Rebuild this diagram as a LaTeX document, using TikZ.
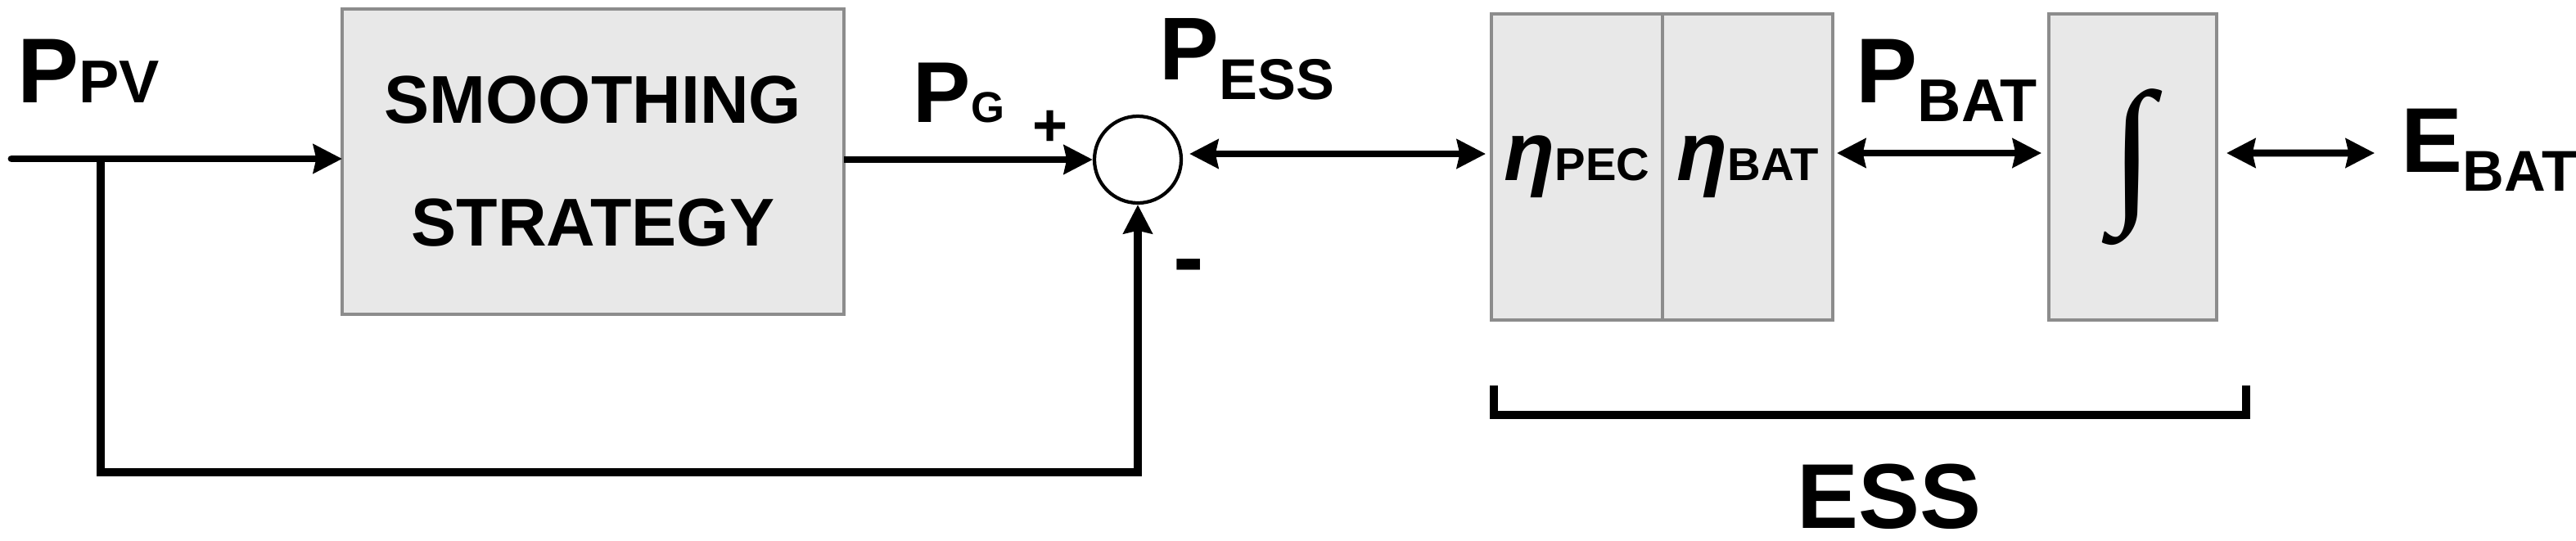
\documentclass[tikz,border=0pt]{standalone}
\usepackage{fontspec}
\setmainfont{Liberation Sans}
\newfontfamily\intfont{Liberation Serif}
\usetikzlibrary{arrows.meta,positioning}
\newcommand{\fsz}[1]{\fontsize{#1}{#1}\selectfont}

\begin{document}
\begin{tikzpicture}[
  block/.style={draw=black!45, fill=black!9, line width=1pt, inner sep=0pt, outer sep=0pt, minimum height=3.74cm, align=center},
  lbl/.style={inner sep=0pt, anchor=base west},
  arrow/.style={-{Stealth[length=10pt,width=10pt,inset=1pt]}, line width=2.5pt},
  biarrow/.style={{Stealth[length=10pt,width=10pt,inset=1pt]}-{Stealth[length=10pt,width=10pt,inset=1pt]}, line width=2.5pt},
  bracket/.style={line width=2.8pt}
]
\useasboundingbox (0,0) rectangle (31.47,-6.6);
% blocks
\node[block, minimum width=6.13cm, minimum height=3.73cm, font=\bfseries\fontsize{23.5pt}{42.7pt}\selectfont] (smooth) at (7.245,-1.975) {SMOOTHING\\STRATEGY};
\node[draw, circle, line width=1.2pt, minimum size=1.06cm, inner sep=0pt] (sum) at (13.9,-1.95) {};
\node[block, minimum width=2.09cm, font=\bfseries\itshape\fsz{29pt}] (pec) at (19.265,-2.04) {η{\upshape\fsz{16pt}PEC}};
\node[block, minimum width=2.08cm, right=0pt of pec, font=\bfseries\itshape\fsz{29pt}] (bat) {η{\upshape\fsz{16pt}BAT}};
\node[block, minimum width=2.05cm, right=2.64cm of bat] (intg) {\raisebox{4pt}{\resizebox*{!}{1.91cm}{\intfont\bfseries ∫}}};
% labels
\node[lbl, font=\bfseries] (ppv) at (0.21,-1.25) {\fsz{32pt}P\fsz{21pt}PV};
\node[lbl, font=\bfseries] (pg) at (11.15,-1.49) {\fsz{30pt}P\fsz{15pt}G};
\node[lbl, font=\bfseries] (pess) at (14.16,-0.97) {\fsz{31pt}P\raisebox{-7pt}{\fsz{20pt}ESS}};
\node[lbl, font=\bfseries] (pbat) at (22.67,-1.25) {\fsz{32pt}P\raisebox{-6.8pt}{\fsz{21pt}BAT}};
\node[lbl, font=\bfseries] (ebat) at (29.33,-2.10) {\fsz{32pt}E\raisebox{-6.8pt}{\fsz{20pt}BAT}};
\node[inner sep=0pt, font=\bfseries\fsz{21pt}] (plus) at (12.83,-1.57) {+};
\node[inner sep=0pt, anchor=base, font=\bfseries\fsz{32pt}] (minus) at (14.52,-3.52) {-};
\node[inner sep=0pt, anchor=base, font=\bfseries\fsz{32pt}] (esslbl) at (23.08,-6.45) {ESS};
% connectors
\coordinate (pin) at (0.14,-1.94);
\coordinate (tap) at (1.23,-1.94);
\coordinate (fb) at (1.23,-5.77);
\coordinate (essarr) at ([yshift=0.07cm]sum.east);
\coordinate (eout) at (29.01,-1.87);
\draw[arrow, line cap=round] (pin) -- (pin -| smooth.west);
\draw[arrow, line width=2.7pt] (tap) -- (fb) -| (sum.south);
\draw[arrow] (smooth.east |- sum.west) -- (sum.west);
\draw[biarrow, shorten <=0.08cm, shorten >=0.07cm] (essarr) -- (essarr -| pec.west);
\draw[biarrow, shorten <=0.05cm, shorten >=0.09cm] ([yshift=1.7mm]bat.east) -- ([yshift=1.7mm]intg.west);
\draw[biarrow, shorten <=0.12cm] ([yshift=1.7mm]intg.east) -- (eout);
% ESS bracket
\coordinate (bl) at (18.25,-4.71);
\coordinate (blb) at (18.25,-5.07);
\coordinate (brt) at (27.44,-4.71);
\draw[bracket] (bl) -- (blb) -| (brt);
\end{tikzpicture}
\end{document}
